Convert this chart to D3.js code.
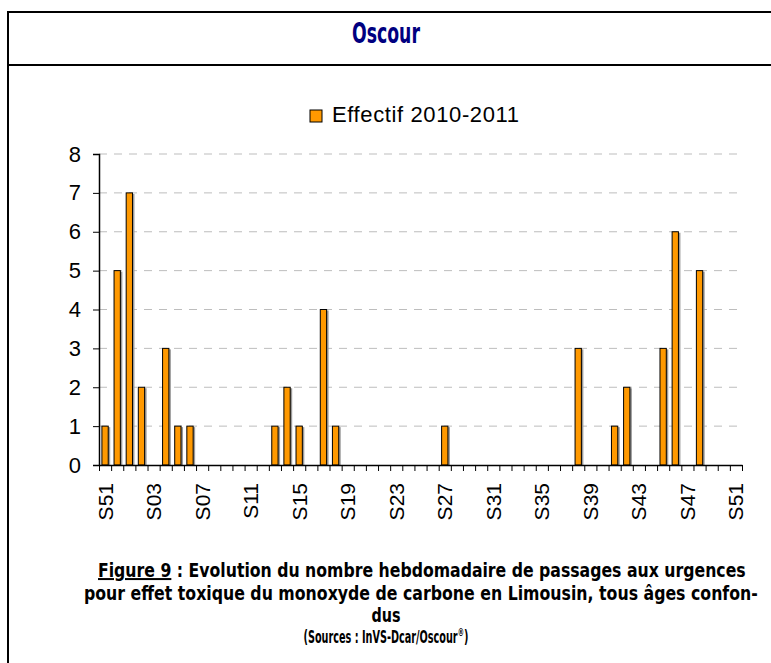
<!DOCTYPE html>
<html>
<head>
<meta charset="utf-8">
<script src="https://cdn.jsdelivr.net/npm/d3@7"></script>
<style>
  body { margin: 0; background: #fff; }
  svg { display: block; }
</style>
</head>
<body>
<script>
// weeks S51 (2010) to S51 (2011)
var weeks = ["S51", "S52"].concat(d3.range(1, 52).map(function (n) { return "S" + (n < 10 ? "0" + n : n) }))
var tickLabels = ["S51", "S03", "S07", "S11", "S15", "S19", "S23", "S27", "S31", "S35", "S39", "S43", "S47", "S51"]
var counts = [1, 5, 7, 2, 0, 3, 1, 1, 0, 0, 0, 0, 0, 0, 1, 2, 1, 0, 4, 1,
    0, 0, 0, 0, 0, 0, 0, 0, 1, 0, 0, 0, 0, 0, 0, 0, 0, 0, 0, 3,
    0, 0, 1, 2, 0, 0, 3, 6, 0, 5, 0, 0, 0]
var yTicks = [0, 1, 2, 3, 4, 5, 6, 7, 8]
var seriesName = "Effectif 2010-2011"

var width = 771, height = 663
var narrow = "'DejaVu Sans Condensed', 'Liberation Sans Narrow', sans-serif"
var plain = "'Liberation Sans', Arial, sans-serif"

var svg = d3.select("body").append("svg")
    .attr("width", width)
    .attr("height", height)

// squeeze a text horizontally so it spans w pixels (condensed look of the original)
function fitText(sel, x0, y0, w, anchor) {
    var natural = sel.node().getComputedTextLength()
    var sx = w / natural
    var left = anchor == "middle" ? x0 - w / 2 : x0
    sel.attr("x", 0).attr("y", 0)
        .attr("text-anchor", "start")
        .attr("transform", "translate(" + left + "," + y0 + ") scale(" + sx + ",1)")
}

// frame round the figure
svg.append("rect")
    .attr("x", 8).attr("y", 12)
    .attr("width", 800).attr("height", 700)
    .attr("fill", "none")
    .attr("stroke", "#000")
    .attr("stroke-width", 2)
svg.append("line")
    .attr("x1", 8).attr("x2", width)
    .attr("y1", 65).attr("y2", 65)
    .attr("stroke", "#000")
    .attr("stroke-width", 2)

var title = svg.append("text")
    .attr("font-family", narrow)
    .attr("font-weight", "bold")
    .attr("font-size", 29)
    .attr("fill", "#000080")
    .text("Oscour")
fitText(title, 386, 43, 68, "middle")

// scales
var x = d3.scaleBand().domain(d3.range(weeks.length)).range([99, 742])
var xb = d3.scaleLinear().domain([0, weeks.length]).range([99, 742])
var y = d3.scaleLinear().domain([0, 8]).range([465, 154])

// grid
svg.append("g").selectAll("line")
    .data(yTicks.filter(function (d) { return d > 0 }))
    .enter().append("line")
    .attr("x1", 99).attr("x2", 738)
    .attr("y1", function (d) { return y(d) }).attr("y2", function (d) { return y(d) })
    .attr("stroke", "#bdbdbd")
    .attr("stroke-width", 1)
    .attr("stroke-dasharray", "8,7")

// bars (shadow first)
var barW = x.bandwidth() * 0.52
var barData = counts.map(function (v, i) { return { i: i, v: v } }).filter(function (d) { return d.v > 0 })
var bars = svg.append("g")
bars.selectAll(".shadow")
    .data(barData)
    .enter().append("rect")
    .attr("class", "shadow")
    .attr("x", function (d) { return x(d.i) + (x.bandwidth() - barW) / 2 + 2 })
    .attr("y", function (d) { return y(d.v) + 1 })
    .attr("width", barW)
    .attr("height", function (d) { return y(0) - y(d.v) - 1 })
    .attr("fill", "#9a9a9a")
bars.selectAll(".bar")
    .data(barData)
    .enter().append("rect")
    .attr("class", "bar")
    .attr("x", function (d) { return x(d.i) + (x.bandwidth() - barW) / 2 })
    .attr("y", function (d) { return y(d.v) })
    .attr("width", barW)
    .attr("height", function (d) { return y(0) - y(d.v) })
    .attr("fill", "#ff9900")
    .attr("stroke", "#000")
    .attr("stroke-width", 1)

// y axis
var yAxis = svg.append("g")
    .attr("transform", "translate(99,0)")
    .call(d3.axisLeft(y).tickValues(yTicks).tickSize(6).tickPadding(12).tickFormat(d3.format("d")))
yAxis.select(".domain").attr("stroke-width", 1.5)
yAxis.selectAll("text")
    .attr("font-family", plain)
    .attr("font-size", 22)
    .attr("fill", "#000")

// x axis: ticks on week boundaries
var xAxis = svg.append("g")
    .attr("transform", "translate(0,465)")
    .call(d3.axisBottom(xb).tickValues(d3.range(weeks.length + 1)).tickSize(6).tickSizeOuter(0).tickFormat(""))
xAxis.select(".domain").attr("stroke-width", 1.5)

// week labels every 4 weeks
svg.append("g").selectAll("text")
    .data(tickLabels)
    .enter().append("text")
    .attr("transform", function (d, k) {
        return "translate(" + (x(k * 4) + x.bandwidth() / 2) + ",483) rotate(-90)"
    })
    .attr("dy", "0.36em")
    .attr("text-anchor", "end")
    .attr("font-family", plain)
    .attr("font-size", 21)
    .text(function (d) { return d })

// legend
svg.append("rect")
    .attr("x", 310).attr("y", 110)
    .attr("width", 12).attr("height", 12)
    .attr("fill", "#ff9900")
    .attr("stroke", "#000")
svg.append("text")
    .attr("x", 332).attr("y", 122)
    .attr("font-family", plain)
    .attr("font-size", 22)
    .attr("textLength", 187)
    .attr("lengthAdjust", "spacing")
    .text(seriesName)

// caption
var cap1 = svg.append("text")
    .attr("font-family", narrow)
    .attr("font-weight", "bold")
    .attr("font-size", 20)
cap1.append("tspan").style("text-decoration", "underline").text("Figure 9")
cap1.append("tspan").text(" : Evolution du nombre hebdomadaire de passages aux urgences")
fitText(cap1, 98, 577, 648, "start")

var cap2 = svg.append("text")
    .attr("font-family", narrow)
    .attr("font-weight", "bold")
    .attr("font-size", 20)
    .text("pour effet toxique du monoxyde de carbone en Limousin, tous âges confon-")
fitText(cap2, 84, 600, 674, "start")

var cap3 = svg.append("text")
    .attr("font-family", narrow)
    .attr("font-weight", "bold")
    .attr("font-size", 20)
    .text("dus")
fitText(cap3, 386, 622, 29, "middle")

var src = svg.append("text")
    .attr("font-family", narrow)
    .attr("font-weight", "bold")
    .attr("font-size", 17)
src.append("tspan").text("(Sources : InVS-Dcar/Oscour")
src.append("tspan").attr("font-size", 11).attr("dy", -7).text("®")
src.append("tspan").attr("dy", 7).text(")")
fitText(src, 386, 643, 165, "middle")
</script>
</body>
</html>
